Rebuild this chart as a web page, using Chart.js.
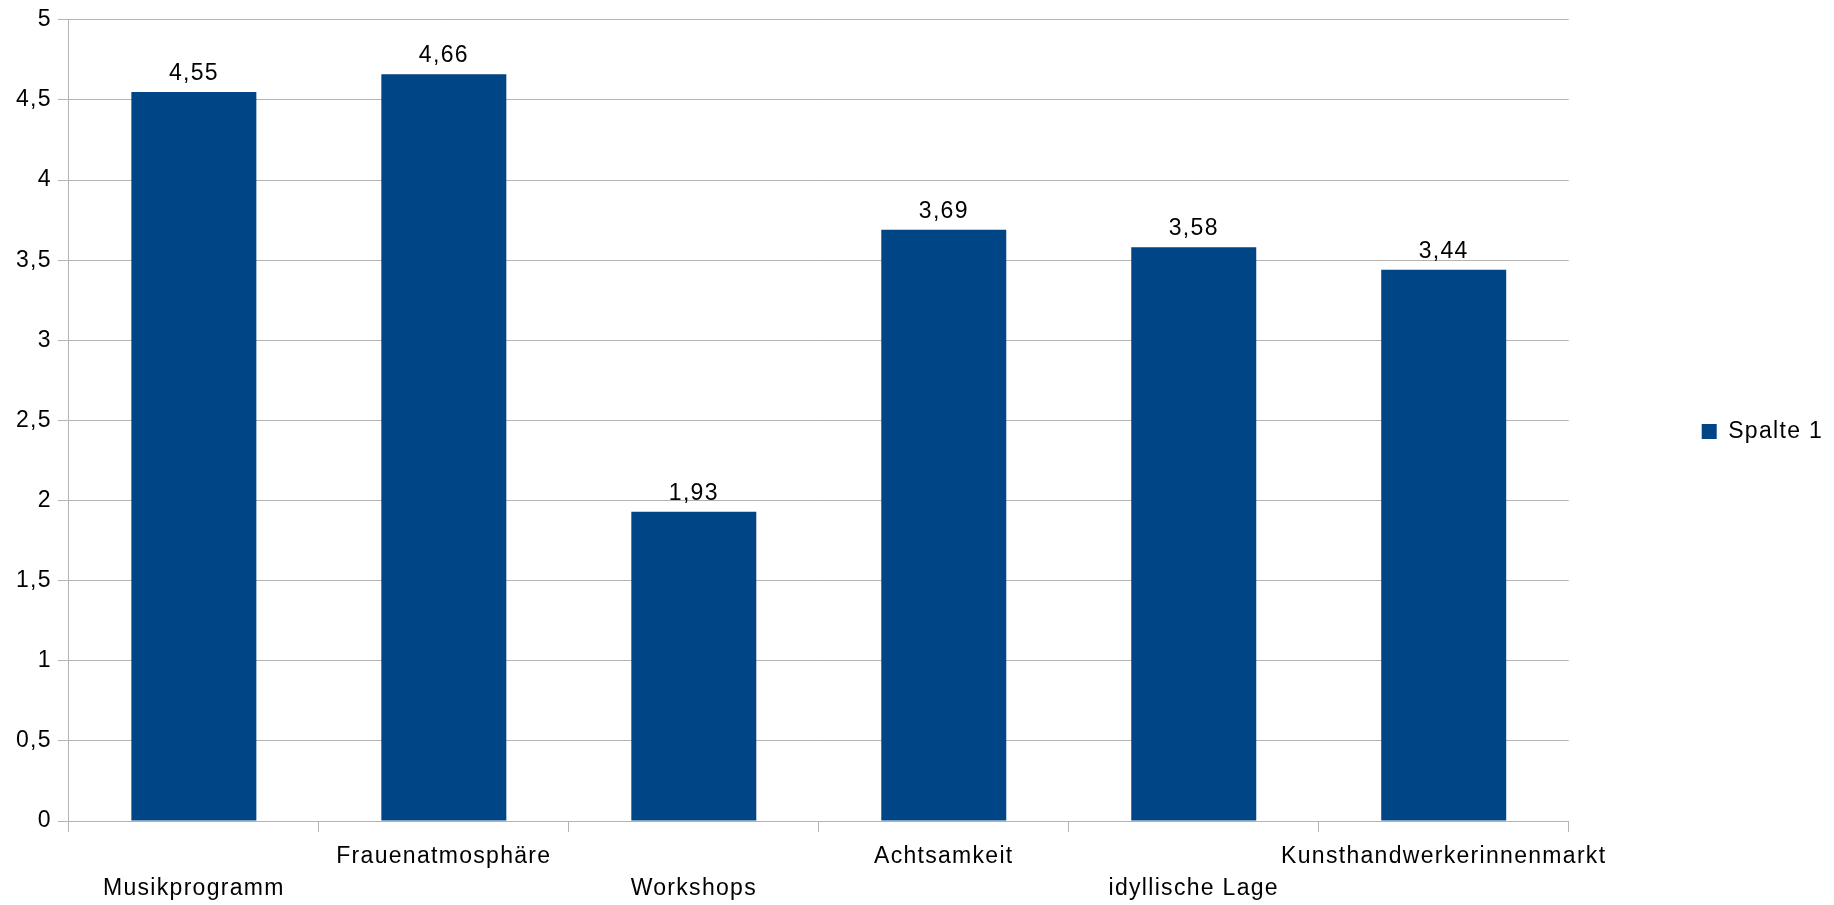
<!DOCTYPE html>
<html>
<head>
<meta charset="utf-8">
<script src="https://cdn.jsdelivr.net/npm/chart.js@4/dist/chart.umd.min.js"></script>
<style>
  html, body { margin: 0; padding: 0; background: #fff; }
  canvas { display: block; }
</style>
</head>
<body>
<canvas id="barChart" width="1834" height="905"></canvas>
<script>
const categories = ['Musikprogramm', 'Frauenatmosphäre', 'Workshops', 'Achtsamkeit', 'idyllische Lage', 'Kunsthandwerkerinnenmarkt'];
const seriesName = 'Spalte 1';
const values = [4.55, 4.66, 1.93, 3.69, 3.58, 3.44];
const yTicks = [0, 0.5, 1, 1.5, 2, 2.5, 3, 3.5, 4, 4.5, 5];

const gridGray = '#b3b3b3';
const barBlue = '#004586';
const fontFamily = '"Liberation Sans", Arial, sans-serif';
const fontSize = 23;
const spacing = '1.3px';

// Komma statt Punkt
function fmt(v) {
    return String(v).replace('.', ',');
}

// etwas breitere Schrift wie im Original
const textSpacing = {
    id: 'textSpacing',
    beforeLayout(chart) { chart.ctx.letterSpacing = spacing; },
    beforeDraw(chart) { chart.ctx.letterSpacing = spacing; }
};

// Werte über den Balken
const valueLabels = {
    id: 'valueLabels',
    afterDatasetsDraw(chart) {
        const ctx = chart.ctx;
        const meta = chart.getDatasetMeta(0);
        ctx.save();
        ctx.font = fontSize + 'px ' + fontFamily;
        ctx.fillStyle = '#000';
        ctx.textAlign = 'center';
        ctx.textBaseline = 'alphabetic';
        meta.data.forEach((bar, i) => {
            ctx.fillText(fmt(chart.data.datasets[0].data[i]), bar.x, bar.y - 12);
        });
        ctx.restore();
    }
};

const whiteBg = {
    id: 'whiteBg',
    beforeDraw(chart) {
        const ctx = chart.ctx;
        ctx.save();
        ctx.fillStyle = '#fff';
        ctx.fillRect(0, 0, chart.width, chart.height);
        ctx.restore();
    }
};

const ctx = document.getElementById('barChart').getContext('2d');
const chart = new Chart(ctx, {
    type: 'bar',
    data: {
        labels: categories,
        datasets: [{
            label: seriesName,
            data: values,
            backgroundColor: barBlue,
            borderWidth: 0,
            barPercentage: 0.5,
            categoryPercentage: 1.0
        }]
    },
    options: {
        responsive: false,
        animation: false,
        devicePixelRatio: 1,
        layout: {
            padding: { left: 10, right: 1, top: 4, bottom: -9 }
        },
        plugins: {
            tooltip: { enabled: false },
            legend: {
                position: 'right',
                fullSize: false,
                title: {
                    display: true,
                    text: '',
                    font: { size: 1, lineHeight: 1 },
                    padding: { top: 21, bottom: 0 }
                },
                labels: {
                    boxWidth: 15,
                    boxHeight: 15,
                    padding: 133,
                    color: '#000',
                    font: { size: fontSize, family: fontFamily }
                }
            }
        },
        scales: {
            x: {
                grid: {
                    offset: true,
                    color: c => c.index === categories.length ? gridGray : 'rgba(0,0,0,0)',
                    tickColor: gridGray,
                    tickLength: 11,
                    lineWidth: 1
                },
                border: { display: true, color: gridGray },
                ticks: {
                    autoSkip: false,
                    maxRotation: 0,
                    minRotation: 0,
                    padding: 9,
                    color: '#000',
                    font: { size: fontSize, family: fontFamily, lineHeight: 1.39 },
                    // abwechselnd versetzte Beschriftung
                    callback: (value, index) => index % 2 === 0 ? ['', categories[index]] : [categories[index], '']
                }
            },
            y: {
                min: 0,
                max: 5,
                afterBuildTicks: axis => { axis.ticks = yTicks.map(v => ({ value: v })); },
                grid: {
                    color: gridGray,
                    tickColor: gridGray,
                    tickLength: 11,
                    lineWidth: 1
                },
                border: { display: true, color: gridGray },
                ticks: {
                    padding: 6,
                    color: '#000',
                    font: { size: fontSize, family: fontFamily },
                    callback: v => fmt(v)
                }
            }
        }
    },
    plugins: [whiteBg, textSpacing, valueLabels]
});
</script>
</body>
</html>
